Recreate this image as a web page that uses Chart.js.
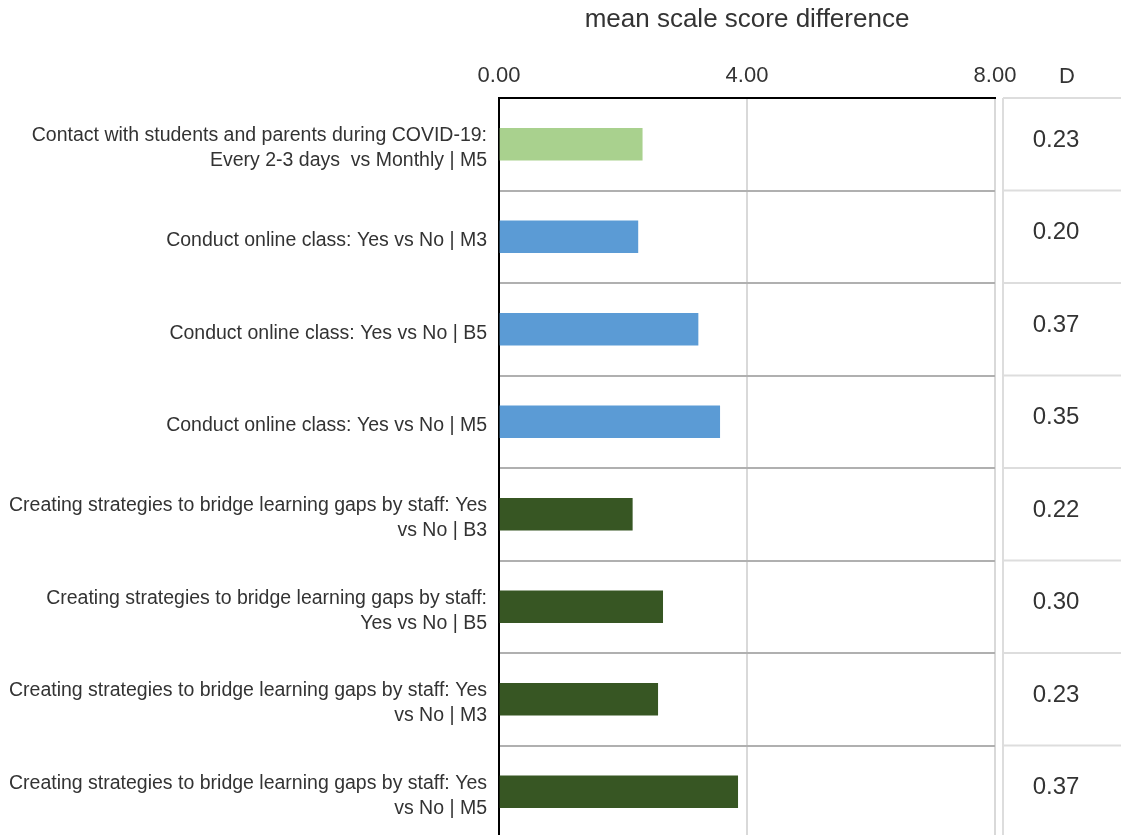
<!DOCTYPE html>
<html>
<head>
<meta charset="utf-8">
<script src="https://cdn.jsdelivr.net/npm/chart.js@4.4.1/dist/chart.umd.min.js"></script>
<style>
  html, body { margin: 0; padding: 0; background: #fff; overflow: hidden; }
  #wrap { width: 1121px; height: 838px; }
</style>
</head>
<body>
<div id="wrap"><canvas id="chart" width="1121" height="838"></canvas></div>
<script>
// dados do gráfico
const categories = [
    ['Contact with students and parents during COVID-19:', 'Every 2-3 days  vs Monthly | M5'],
    ['Conduct online class: Yes vs No | M3'],
    ['Conduct online class: Yes vs No | B5'],
    ['Conduct online class: Yes vs No | M5'],
    ['Creating strategies to bridge learning gaps by staff: Yes', 'vs No | B3'],
    ['Creating strategies to bridge learning gaps by staff:', 'Yes vs No | B5'],
    ['Creating strategies to bridge learning gaps by staff: Yes', 'vs No | M3'],
    ['Creating strategies to bridge learning gaps by staff: Yes', 'vs No | M5']
];
const meanDiff = [2.31, 2.24, 3.21, 3.56, 2.15, 2.64, 2.56, 3.85];
const dValues = ['0.23', '0.20', '0.37', '0.35', '0.22', '0.30', '0.23', '0.37'];
const barColors = ['#a9d18e', '#5b9bd5', '#5b9bd5', '#5b9bd5', '#375623', '#375623', '#375623', '#375623'];
const xTicks = [0, 4, 8];

const TEXT = '#333333';
const FONT = '"Liberation Sans", Arial, sans-serif';
Chart.defaults.font.family = FONT;
Chart.defaults.color = TEXT;

// coluna "D" à direita do gráfico
const dColumn = {
    id: 'dColumn',
    afterDraw(chart) {
        const { ctx, chartArea, scales } = chart;
        const y = scales.y;
        const band = y.getPixelForValue(1) - y.getPixelForValue(0);
        const left = chartArea.right + 8;
        const right = chart.width;
        ctx.save();
        ctx.strokeStyle = '#dddddd';
        ctx.lineWidth = 2;
        ctx.beginPath();
        ctx.moveTo(left, chartArea.top);
        ctx.lineTo(left, chartArea.bottom);
        for (let i = 0; i <= dValues.length; i++) {
            const yy = y.getPixelForValue(i) - band / 2;
            ctx.moveTo(left, yy);
            ctx.lineTo(right, yy);
        }
        ctx.stroke();

        ctx.fillStyle = TEXT;
        ctx.textAlign = 'center';
        ctx.textBaseline = 'middle';
        ctx.font = '24px ' + FONT;
        dValues.forEach((v, i) => {
            ctx.fillText(v, left + 53, y.getPixelForValue(i) - 4);
        });
        ctx.font = '22px ' + FONT;
        ctx.fillText('D', left + 64, 77);
        ctx.restore();
    }
};

new Chart(document.getElementById('chart').getContext('2d'), {
    type: 'bar',
    data: {
        labels: categories,
        datasets: [{
            data: meanDiff,
            backgroundColor: barColors,
            borderWidth: 0,
            barThickness: 32
        }]
    },
    options: {
        indexAxis: 'y',
        responsive: false,
        animation: false,
        layout: { padding: { left: 0, right: 126, top: 0, bottom: 0 } },
        plugins: {
            legend: { display: false },
            tooltip: { enabled: false }
        },
        scales: {
            x: {
                position: 'top',
                min: 0,
                max: 8,
                afterBuildTicks: (scale) => { scale.ticks = xTicks.map(v => ({ value: v })); },
                afterFit: (scale) => { scale.height = 98; },
                ticks: {
                    padding: 9,
                    font: { size: 22 },
                    color: TEXT,
                    callback: (v) => Number(v).toFixed(2)
                },
                grid: { color: '#d9d9d9', lineWidth: 2, drawTicks: false },
                border: { display: true, color: '#000', width: 2 },
                title: {
                    display: true,
                    text: 'mean scale score difference',
                    font: { size: 26 },
                    color: TEXT,
                    padding: { top: 4, bottom: 0 }
                }
            },
            y: {
                afterFit: (scale) => {
                    scale.width = 499;
                    scale.paddingTop = 0;
                    scale.paddingBottom = 0;
                },
                ticks: {
                    padding: 12,
                    labelOffset: 4,
                    font: { size: 19.5, lineHeight: 1.28 },
                    color: TEXT,
                    autoSkip: false
                },
                grid: {
                    offset: true,
                    drawTicks: false,
                    lineWidth: 2,
                    color: (c) => c.index === 0 ? 'rgba(0,0,0,0)' : '#b0b0b0'
                },
                border: { display: true, color: '#000', width: 2 }
            }
        }
    },
    plugins: [dColumn]
});
</script>
</body>
</html>
